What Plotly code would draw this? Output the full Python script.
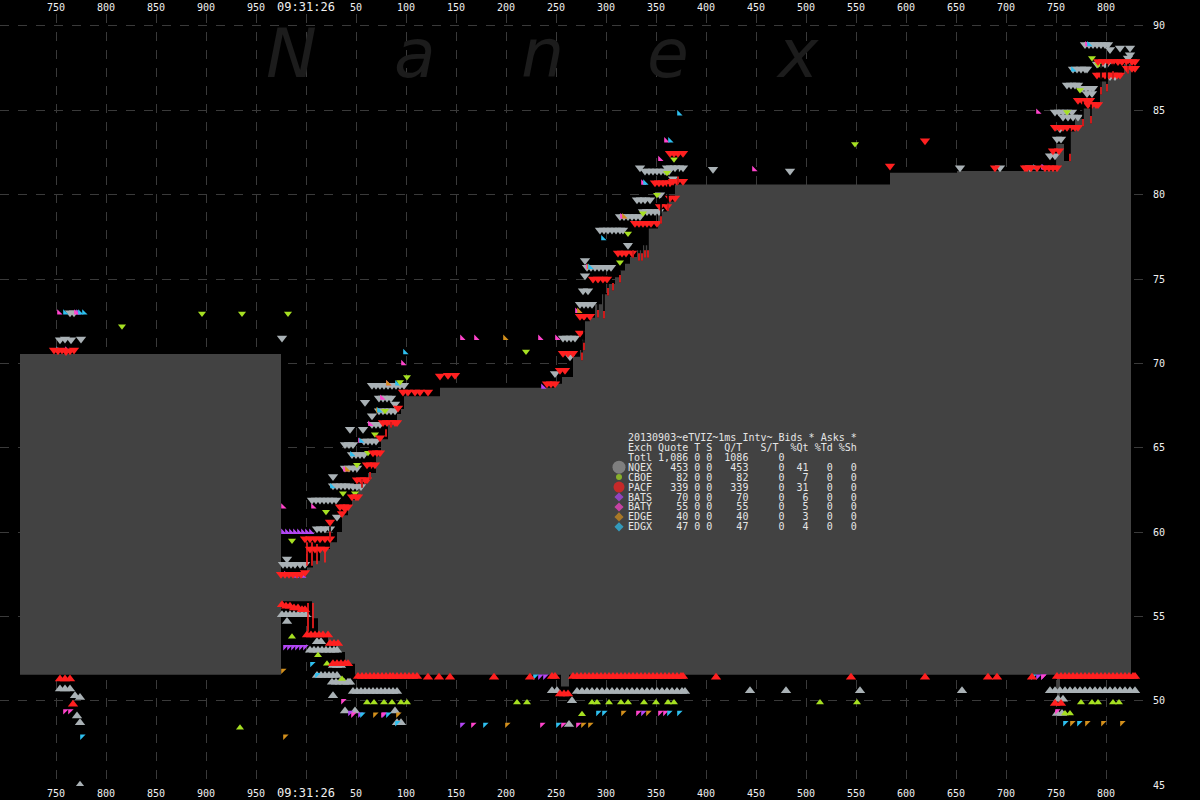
import plotly.graph_objects as go

# ---------------- axis ticks ----------------
TIME_TICKS = [-250, -200, -150, -100, -50, 0, 50, 100, 150, 200, 250, 300, 350,
              400, 450, 500, 550, 600, 650, 700, 750, 800]
TIME_LABELS = ["750", "800", "850", "900", "950", "09:31:26", "50", "100", "150",
               "200", "250", "300", "350", "400", "450", "500", "550", "600",
               "650", "700", "750", "800"]
PRICE_TICKS = [45, 50, 55, 60, 65, 70, 75, 80, 85, 90]

# ---------------- NBBO (ms after 09:31:26.000) ----------------
ask_t = [-286, -25, 1, 7, 14, 24, 31, 36, 42, 46, 52, 62, 70, 75, 82, 91, 95, 98, 134, 249,
         256, 267, 274, 276, 279, 284, 289, 296, 301, 309, 314, 319, 324, 331, 337, 342, 352,
         361, 369, 584, 651, 751, 758, 764, 769, 777, 786, 794, 802, 818, 825]
ask_p = [70.55, 57.4, 57.9, 58.3, 59.0, 59.4, 60.0, 61.0, 61.6, 61.9, 62.9, 63.5, 64.5, 65.5,
         66.4, 67.0, 67.3, 68.05, 68.55, 68.8, 69.2, 70.4, 70.8, 71.4, 72.5, 72.7, 73.5, 74.1,
         74.7, 75.1, 75.5, 75.9, 76.3, 76.7, 77.0, 78.0, 79.0, 79.6, 80.6, 81.3, 81.4, 83.0,
         82.0, 83.75, 84.5, 85.1, 85.4, 86.7, 87.1, 87.75, 87.75]
bid_t = [-286, -25, 6, 12, 22, 31, 39, 49, 255, 263, 751, 754, 825]
bid_p = [51.55, 55.9, 54.9, 53.9, 53.4, 52.9, 52.2, 51.55, 50.85, 51.55, 50.0, 51.55, 51.55]

# quote flicker lines inside the spread (time, high, low)
flick = [(24, 60.34, 59.58), (56, 63.11, 62.64), (64, 63.88, 63.11), (80, 66.24, 65.65),
         (85, 66.53, 66.18), (276, 71.37, 70.19), (278, 72.55, 70.78), (292, 74.73, 72.72),
         (298, 74.73, 72.66), (302, 74.73, 74.02), (307, 74.91, 74.32), (314, 75.5, 74.79),
         (327, 77.09, 76.26), (333, 77.26, 76.08), (339, 77.26, 76.26), (336, 78.03, 76.08),
         (342, 78.03, 76.26), (355, 79.8, 78.27), (362, 80.62, 79.03), (372, 81.51, 80.62),
         (764, 83.93, 81.98), (777, 85.52, 84.04), (785, 85.34, 84.22), (795, 87.76, 85.93),
         (801, 87.76, 86.11), (807, 87.76, 86.87), (822, 87.76, 87.17)]
red_lines = [(1, 59.4, 58.0), (6, 59.4, 58.0), (11, 59.3, 58.1), (19, 59.0, 58.2),
             (2, 55.8, 54.1), (7, 55.8, 54.3)]

# ---------------- exchange quotes ----------------
NQEX_ASK = [(-246, 71.4), (-241, 71.45), (-235, 71.4), (-225, 71.45), (-236, 73.0), (-232, 73.0),
            (-24, 71.5), (-19, 58.4), (-23, 58.1), (-19, 58.1), (-15, 58.1), (-11, 58.1),
            (-6, 58.1), (-1, 58.1), (6, 61.9), (10, 61.9), (14, 61.9), (18, 61.9), (22, 61.9),
            (26, 61.9), (30, 61.9), (11, 60.2), (15, 60.2), (19, 60.2), (24, 60.2), (31, 60.9),
            (27, 62.75), (31, 62.75), (35, 62.75), (39, 62.75), (43, 62.75), (47, 62.7),
            (51, 62.7), (55, 62.7), (27, 63.3), (39, 63.8), (43, 63.8), (47, 63.8), (51, 63.8),
            (46, 64.6), (50, 64.6), (54, 64.6), (58, 64.6), (39, 65.2), (43, 65.2), (47, 65.2),
            (58, 65.4), (62, 65.4), (66, 65.4), (70, 65.4), (44, 66.1), (57, 66.1), (66, 66.4),
            (70, 66.4), (74, 66.4), (66, 66.9), (73, 67.2), (77, 67.2), (81, 67.2), (85, 67.2),
            (89, 67.2), (59, 67.7), (73, 67.95), (77, 67.95), (81, 67.95), (85, 67.95),
            (89, 67.6), (66, 68.7), (70, 68.7), (74, 68.7), (78, 68.7), (82, 68.7), (86, 68.7),
            (90, 68.7), (94, 68.7), (98, 68.7),
            (249, 69.4), (264, 70.4), (257, 71.5), (261, 71.5), (265, 71.5), (269, 71.5),
            (274, 73.5), (278, 73.5), (282, 73.5), (286, 73.5), (277, 74.3), (282, 74.3),
            (281, 75.7), (285, 75.7), (289, 75.7), (293, 75.7), (297, 75.7), (301, 75.7),
            (305, 75.7), (279, 76.1), (279, 75.2), (294, 77.9), (298, 77.9), (302, 77.9),
            (306, 77.9), (310, 77.9), (314, 77.9), (317, 77.9), (322, 77.0), (314, 78.7),
            (318, 78.7), (322, 78.7), (326, 78.7), (330, 78.7), (334, 78.7), (337, 79.0),
            (341, 79.0), (345, 79.0), (349, 79.0), (353, 79.0), (331, 79.7), (335, 79.7),
            (339, 79.7), (344, 79.7), (334, 81.6), (339, 81.4), (343, 81.4), (347, 81.4),
            (351, 81.4), (355, 81.4), (359, 81.4), (363, 81.4), (354, 80.0), (361, 81.6),
            (365, 81.6), (369, 81.6), (373, 81.6), (377, 81.6), (367, 80.95),
            (407, 81.5), (484, 81.4), (654, 81.6), (694, 81.6), (724, 81.6),
            (744, 82.3), (749, 82.3), (751, 83.3), (755, 83.3), (754, 83.9), (749, 84.9),
            (753, 84.9), (757, 84.9), (761, 84.9), (766, 84.9), (757, 84.6), (762, 84.6),
            (767, 84.6), (772, 84.6), (761, 86.5), (765, 86.5), (769, 86.5), (772, 86.5),
            (776, 86.3), (780, 86.3), (784, 86.3), (787, 86.3), (781, 86.0), (786, 86.0),
            (767, 87.45), (771, 87.45), (775, 87.45), (779, 87.45), (781, 87.45),
            (791, 87.75), (795, 87.75), (799, 87.75), (801, 87.75), (779, 88.9), (783, 88.9),
            (787, 88.9), (791, 88.9), (795, 88.9), (799, 88.9), (802, 88.9), (804, 88.6),
            (814, 88.7), (824, 88.7), (824, 88.3), (822, 88.1), (804, 87.0), (809, 87.0)]
NQEX_BID = [(-246, 50.7), (-241, 50.7), (-236, 50.7), (-231, 50.3), (-226, 50.2), (-229, 49.1),
            (-226, 48.7), (-226, 45.0), (-24, 55.1), (-20, 55.1), (-16, 55.1), (-12, 55.1),
            (-8, 55.1), (-4, 55.1), (0, 55.1), (-19, 54.7), (11, 53.5), (15, 53.5), (4, 53.0),
            (8, 53.0), (12, 53.0), (16, 53.0), (20, 53.0), (24, 53.0), (28, 53.0), (31, 53.0),
            (27, 52.1), (31, 52.1), (35, 52.1), (11, 51.5), (15, 51.5), (19, 51.5), (23, 51.5),
            (27, 51.5), (31, 51.5), (26, 51.1), (30, 51.1), (34, 51.1), (38, 51.1), (42, 51.1),
            (44, 51.1), (27, 50.3), (47, 50.55), (51, 50.55), (55, 50.55), (59, 50.55),
            (63, 50.55), (67, 50.55), (71, 50.55), (75, 50.55), (79, 50.55), (83, 50.55),
            (87, 50.55), (91, 50.55), (39, 49.4), (49, 49.4), (89, 49.4), (91, 48.7), (95, 48.7),
            (246, 50.6), (251, 50.6), (266, 50.0), (263, 48.6), (271, 50.55), (276, 50.55),
            (281, 50.55), (286, 50.55), (291, 50.55), (296, 50.55), (301, 50.55), (306, 50.55),
            (311, 50.55), (316, 50.55), (321, 50.55), (326, 50.55), (331, 50.55), (336, 50.55),
            (341, 50.55), (346, 50.55), (351, 50.55), (356, 50.55), (361, 50.55), (366, 50.55),
            (371, 50.55), (376, 50.55), (379, 50.55), (444, 50.6), (480, 50.6), (554, 50.6),
            (656, 50.6), (744, 50.6), (749, 50.6), (754, 50.6), (759, 50.6), (764, 50.6),
            (769, 50.6), (774, 50.6), (779, 50.6), (784, 50.6), (789, 50.6), (794, 50.6),
            (799, 50.6), (804, 50.6), (809, 50.6), (814, 50.6), (819, 50.6), (824, 50.6),
            (829, 50.6), (752, 50.1), (757, 50.1), (751, 49.25), (756, 49.25)]
CBOE_ASK = [(-184, 72.2), (-104, 72.95), (-64, 72.95), (-18, 72.95), (-14, 59.5), (20, 61.2),
            (37, 62.3), (49, 62.3), (51, 64.0), (62, 64.7), (69, 65.8), (79, 67.2), (94, 68.9),
            (101, 69.2), (220, 70.7), (287, 75.0), (314, 76.0), (322, 77.7), (337, 78.9),
            (351, 80.0), (361, 81.3), (368, 82.1), (549, 83.0), (761, 84.9), (774, 86.2),
            (786, 88.1), (792, 87.7)]
CBOE_BID = [(-66, 48.4), (-14, 53.8), (12, 52.7), (21, 52.2), (36, 51.3), (61, 49.9), (68, 49.9),
            (78, 49.9), (86, 49.9), (95, 49.9), (101, 49.9), (211, 49.9), (221, 49.9),
            (276, 49.2), (286, 49.9), (291, 49.9), (303, 49.9), (315, 49.9), (322, 49.9),
            (338, 49.9), (350, 49.9), (362, 49.9), (368, 49.9), (514, 49.9), (551, 49.9),
            (759, 49.25), (764, 49.25), (775, 49.9), (786, 49.9), (792, 49.9), (807, 49.9),
            (813, 49.9)]
PACF_ASK = [(-252, 70.8), (-248, 70.75), (-244, 70.8), (-240, 70.7), (-236, 70.75), (-232, 70.8),
            (-25, 57.5), (-21, 57.5), (-17, 57.5), (-13, 57.5), (-9, 57.5), (-5, 57.5), (-1, 57.6),
            (-1, 59.6), (4, 59.6), (9, 59.6), (14, 59.6), (19, 59.6), (24, 59.6), (4, 59.0),
            (9, 59.0), (14, 59.0), (19, 59.0), (24, 60.6), (36, 61.1), (39, 61.4), (34, 61.5),
            (38, 61.5), (42, 61.5), (46, 62.1), (50, 62.1), (52, 62.1), (51, 63.1), (55, 63.1),
            (59, 63.1), (61, 63.1), (61, 64.0), (65, 64.0), (69, 64.0), (67, 64.7), (71, 64.7),
            (74, 64.7), (74, 65.6), (77, 66.5), (81, 66.5), (85, 66.5), (89, 66.5), (91, 66.5),
            (92, 67.35), (97, 68.3), (102, 68.3), (109, 68.3), (114, 68.3), (122, 68.3),
            (134, 69.25), (142, 69.3), (149, 69.3), (241, 68.8), (245, 68.8), (249, 68.8),
            (254, 69.6), (259, 69.6), (257, 70.6), (262, 70.6), (267, 70.6), (274, 71.8),
            (274, 72.8), (278, 72.8), (284, 72.8), (287, 75.0), (292, 75.0), (297, 75.0),
            (301, 75.0), (312, 76.55), (316, 76.55), (320, 76.55), (326, 76.55), (329, 78.3),
            (333, 78.3), (337, 78.3), (341, 78.3), (345, 78.3), (351, 78.3), (354, 79.3),
            (361, 79.3), (364, 79.8), (369, 79.8), (349, 80.7), (353, 80.7), (357, 80.7),
            (361, 80.7), (364, 80.7), (367, 80.8), (371, 80.8), (377, 80.8), (364, 82.45),
            (368, 82.45), (372, 82.45), (377, 82.45), (584, 81.7), (619, 83.2), (689, 81.6),
            (719, 81.6), (721, 81.6), (725, 81.6), (731, 81.6), (739, 81.6), (743, 81.6),
            (747, 81.6), (751, 81.6), (747, 82.6), (753, 82.6), (749, 84.0), (753, 84.0),
            (757, 84.0), (761, 84.0), (765, 84.0), (769, 84.0), (772, 84.0), (772, 85.6),
            (776, 85.6), (780, 85.6), (784, 85.6), (782, 85.35), (786, 85.35), (790, 85.35),
            (792, 85.35), (791, 87.1), (795, 87.1), (799, 87.1), (803, 87.1), (807, 87.1),
            (811, 87.1), (814, 87.1), (792, 87.9), (797, 87.9), (802, 87.9), (807, 87.9),
            (812, 87.9), (816, 87.9), (821, 87.9), (826, 87.9), (829, 87.9), (821, 87.5),
            (826, 87.5), (829, 87.5)]
PACF_BID = [(-246, 51.3), (-241, 51.3), (-236, 51.3), (-233, 49.8), (-24, 55.7), (-20, 55.6),
            (-16, 55.6), (-12, 55.5), (-8, 55.5), (-4, 55.4), (-1, 55.4), (1, 53.9), (5, 53.9),
            (9, 53.9), (13, 53.9), (17, 53.9), (22, 53.9), (24, 53.4), (28, 53.4), (32, 53.4),
            (27, 52.2), (31, 52.2), (35, 52.2), (39, 52.2), (42, 52.2), (52, 51.45), (56, 51.45),
            (60, 51.45), (64, 51.45), (68, 51.45), (72, 51.45), (76, 51.45), (80, 51.45),
            (84, 51.45), (87, 51.45), (91, 51.45), (95, 51.45), (99, 51.45), (103, 51.45),
            (107, 51.45), (111, 51.45), (122, 51.4), (133, 51.4), (144, 51.4), (188, 51.4),
            (224, 51.4), (246, 51.45), (249, 51.45), (254, 50.4), (258, 50.4), (262, 50.4),
            (267, 51.45), (271, 51.45), (275, 51.45), (279, 51.45), (283, 51.45), (287, 51.45),
            (291, 51.45), (295, 51.45), (299, 51.45), (303, 51.45), (307, 51.45), (311, 51.45),
            (315, 51.45), (319, 51.45), (323, 51.45), (327, 51.45), (331, 51.45), (335, 51.45),
            (339, 51.45), (343, 51.45), (347, 51.45), (351, 51.45), (355, 51.45), (359, 51.45),
            (363, 51.45), (367, 51.45), (371, 51.45), (375, 51.45), (377, 51.45), (410, 51.4),
            (545, 51.4), (619, 51.4), (682, 51.4), (691, 51.4), (726, 51.4), (751, 51.45),
            (755, 51.45), (759, 51.45), (763, 51.45), (767, 51.45), (771, 51.45), (775, 51.45),
            (779, 51.45), (783, 51.45), (787, 51.45), (791, 51.45), (795, 51.45), (799, 51.45),
            (803, 51.45), (807, 51.45), (811, 51.45), (815, 51.45), (819, 51.45), (823, 51.45),
            (827, 51.45), (829, 51.45), (749, 49.85), (755, 49.85)]
BATS_ASK = [(-228, 73.0), (-23, 60.0), (-19, 60.0), (-15, 60.0), (-11, 60.0), (-7, 60.0),
            (-3, 60.0), (1, 60.0), (5, 60.0), (-10, 57.4), (-3, 57.4), (237, 68.6), (738, 81.6)]
BATS_BID = [(-21, 53.2), (-17, 53.2), (-13, 53.2), (-9, 53.2), (-5, 53.2), (-1, 53.2),
            (44, 49.3), (54, 49.2), (78, 49.2), (156, 48.6), (234, 51.45), (239, 51.45),
            (337, 49.3), (732, 51.45), (737, 51.45)]
BATY_ASK = [(-247, 73.0), (-230, 73.0), (-239, 70.8), (-23, 61.5), (7, 61.5), (-20, 57.5),
            (39, 63.7), (54, 65.4), (64, 66.4), (76, 67.95), (82, 68.8), (97, 70.0), (156, 71.5),
            (170, 71.5), (234, 71.5), (251, 71.5), (271, 73.1), (282, 75.7), (316, 78.7),
            (337, 80.7), (354, 82.1), (360, 83.2), (448, 81.5), (737, 81.6), (732, 84.9),
            (781, 88.9)]
BATY_BID = [(-241, 49.4), (-236, 49.4), (37, 50.0), (47, 49.2), (77, 49.2), (167, 48.6),
            (236, 48.6), (257, 48.6), (272, 48.6), (332, 49.3), (354, 49.3), (359, 49.3),
            (751, 49.4), (737, 51.45)]
EDGE_ASK = [(41, 63.7), (72, 67.2), (82, 68.8), (199, 71.5), (273, 73.1), (283, 75.7), (318, 78.7)]
EDGE_BID = [(-21, 47.9), (-23, 51.8), (69, 49.2), (92, 49.2), (201, 48.6), (277, 48.6),
            (284, 48.6), (317, 49.3), (342, 49.3), (766, 48.7), (781, 48.7), (797, 48.7),
            (816, 48.7)]
EDGX_ASK = [(-241, 73.0), (-226, 73.0), (-222, 73.0), (-248, 70.8), (26, 62.7), (46, 64.6),
            (55, 65.4), (73, 67.2), (91, 68.8), (99, 70.65), (284, 75.7), (297, 77.4),
            (339, 80.7), (364, 83.2), (373, 84.8), (729, 81.6), (767, 87.4), (783, 88.9)]
EDGX_BID = [(-224, 47.9), (6, 52.2), (11, 51.55), (56, 49.2), (82, 49.2), (91, 48.7),
            (179, 48.6), (229, 51.45), (252, 48.6), (292, 49.3), (298, 49.3), (363, 49.3),
            (373, 49.3), (727, 51.45), (759, 48.7), (773, 48.7)]

# ---------------- summary table ----------------
exch_names = ["NQEX", "CBOE", "PACF", "BATS", "BATY", "EDGE", "EDGX"]
exch_quotes = [453, 82, 339, 70, 55, 40, 47]
exch_pct_qt = [41, 7, 31, 6, 5, 3, 4]
exch_colors = ["#a9b1b5", "#a6e022", "#ff2020", "#b347f5", "#ff44cc", "#d4901c", "#2ec0f0"]
legend_colors = ["#9a9a9a", "#a6e022", "#ff2020", "#b347f5", "#ff44cc", "#d4901c", "#2ec0f0"]
legend_symbols = ["circle", "circle", "circle", "diamond", "diamond", "diamond", "diamond"]
legend_sizes = [13, 6, 11, 7, 7, 7, 7]

series = [
    ("NQEX", NQEX_ASK, NQEX_BID, "triangle-down", "triangle-up", 9),
    ("BATS", BATS_ASK, BATS_BID, "triangle-sw", "triangle-nw", 6),
    ("BATY", BATY_ASK, BATY_BID, "triangle-sw", "triangle-nw", 6),
    ("EDGE", EDGE_ASK, EDGE_BID, "triangle-sw", "triangle-nw", 6),
    ("EDGX", EDGX_ASK, EDGX_BID, "triangle-sw", "triangle-nw", 6),
    ("CBOE", CBOE_ASK, CBOE_BID, "triangle-down", "triangle-up", 7),
    ("PACF", PACF_ASK, PACF_BID, "triangle-down", "triangle-up", 9),
]

fig = go.Figure()

# NBBO spread fill
fig.add_trace(go.Scatter(x=bid_t, y=bid_p, mode="lines", line=dict(width=0, shape="hv"),
                         hoverinfo="skip"))
fig.add_trace(go.Scatter(x=ask_t, y=ask_p, mode="lines", line=dict(width=0, shape="hv"),
                         fill="tonexty", fillcolor="#424242", hoverinfo="skip"))

# flicker lines
fx, fy, rx, ry = [], [], [], []
for t, hi, lo in flick:
    fx += [t, t, None]
    fy += [hi, lo, None]
    rx += [t, t, None]
    ry += [lo + 0.45, lo, None]
for t, hi, lo in red_lines:
    rx += [t, t, None]
    ry += [hi, lo, None]
fig.add_trace(go.Scatter(x=fx, y=fy, mode="lines", line=dict(color="#000000", width=1.6),
                         xaxis="x2", hoverinfo="skip"))
fig.add_trace(go.Scatter(x=rx, y=ry, mode="lines", line=dict(color="#ff2020", width=1.6),
                         xaxis="x2", hoverinfo="skip"))

color_of = dict(zip(exch_names, exch_colors))
for name, asks, bids, asym, bsym, size in series:
    for pts, sym in ((asks, asym), (bids, bsym)):
        fig.add_trace(go.Scatter(
            x=[p[0] for p in pts], y=[p[1] for p in pts], mode="markers",
            marker=dict(symbol=sym, size=size, color=color_of[name], line=dict(width=0)),
            hoverinfo="skip"))

# legend swatches (pixel-space overlay axis)
SW_X = 619
ROW_Y0 = 437.5
ROW_DY = 10
fig.add_trace(go.Scatter(
    x=[SW_X] * len(exch_names), y=[ROW_Y0 + ROW_DY * (i + 3) for i in range(len(exch_names))],
    mode="markers", xaxis="x3", yaxis="y3",
    marker=dict(symbol=legend_symbols, size=legend_sizes, color=legend_colors, line=dict(width=0)),
    hoverinfo="skip"))

# table text
lines = ["20130903~eTVIZ~1ms Intv~ Bids * Asks *",
         "Exch Quote T S  Q/T   S/T  %Qt %Td %Sh",
         f"Totl {sum(exch_quotes):>5,} 0 0 {sum(exch_quotes):>5}     0"]
for n, q, pq in zip(exch_names, exch_quotes, exch_pct_qt):
    lines.append(f"{n:<4} {q:>5} 0 0 {q:>5}     0{pq:>4}   0   0")

annotations = []
for i, s in enumerate(lines):
    annotations.append(dict(text=s.replace(" ", "&nbsp;"), xref="x3", yref="y3", x=627,
                            y=ROW_Y0 + ROW_DY * i, xanchor="left", yanchor="middle",
                            showarrow=False, borderpad=0,
                            font=dict(family="DejaVu Sans Mono", size=10, color="#e6e6e6")))

# watermark
for ch, px in zip("Nanex", [291, 415, 542, 668, 797]):
    annotations.append(dict(text=f"<i>{ch}</i>", xref="x3", yref="y3", x=px, y=52,
                            xanchor="center", yanchor="middle", showarrow=False,
                            font=dict(family="DejaVu Sans", size=68, color="#1c1c1c")))

W_PLOT = 1152
grid = dict(showgrid=True, gridcolor="#3a3a3a", griddash="dash", gridwidth=1, zeroline=False,
            showline=False, ticks="")
tickfont = dict(family="DejaVu Sans Mono", size=10, color="#f0f0f0")
time_text = [f'<span style="font-size:12px">{t}</span>' if ":" in t else t for t in TIME_LABELS]

fig.update_layout(
    width=1200, height=800,
    margin=dict(l=0, r=1200 - W_PLOT, t=12, b=12),
    paper_bgcolor="#000000", plot_bgcolor="#000000",
    showlegend=False, hovermode=False,
    xaxis=dict(range=[-306, W_PLOT - 306], tickvals=TIME_TICKS, ticktext=time_text,
               tickfont=tickfont, side="bottom", **grid),
    xaxis2=dict(overlaying="x", matches="x", side="top", anchor="y", tickvals=TIME_TICKS,
                ticktext=time_text, tickfont=tickfont, showgrid=False, zeroline=False, ticks=""),
    yaxis=dict(range=[44.953, 90.708], tickvals=PRICE_TICKS, side="right", tickfont=tickfont,
               **grid),
    xaxis3=dict(overlaying="x", anchor="y3", range=[0, W_PLOT], visible=False),
    yaxis3=dict(overlaying="y", anchor="x3", range=[788, 12], visible=False),
    annotations=annotations,
)

fig.write_html("out.html",
               config={"displayModeBar": False, "staticPlot": True},
               post_script="document.body.style.margin='0';document.body.style.padding='0';"
                           "document.body.style.background='#000';")
